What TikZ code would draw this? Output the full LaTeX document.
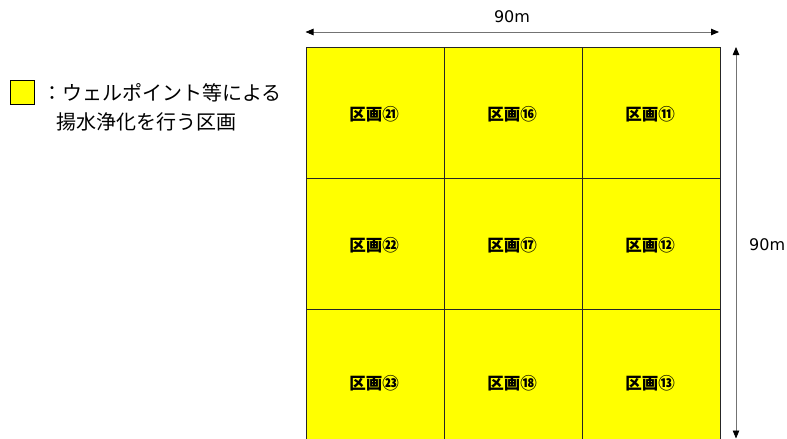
\documentclass[tikz,border=0pt]{standalone}
\usepackage{fontspec}
\setmainfont{Noto Sans CJK JP}
\newfontfamily\dimfont{DejaVu Sans}
\usetikzlibrary{arrows.meta}
\definecolor{cellyellow}{RGB}{255,255,0}
\begin{document}
\begin{tikzpicture}[x=1pt,y=-1pt,
  cell/.style={draw=black!85,line width=1pt,fill=cellyellow,minimum width=138pt,minimum height=131pt,inner sep=0pt,anchor=north west},
  celllabel/.style={font=\fontsize{16.5}{16.5}\selectfont\bfseries,inner sep=0pt},
  dimline/.style={draw=black!55,line width=0.8pt,{Triangle[length=8pt,width=6.5pt,color=black]}-{Triangle[length=8pt,width=6.5pt,color=black]}},
  dimtext/.style={font=\dimfont\fontsize{16}{16}\selectfont,inner sep=0pt},
  legendtext/.style={font=\fontsize{20}{20}\selectfont,inner sep=0pt,anchor=west}]
\useasboundingbox (0,0) rectangle (787,439);
\begin{scope}
\clip (0,0) rectangle (787,439);
% grid cells
\node[cell] (c11) at (305.5,47) {};
\node[cell] (c12) at (443.5,47) {};
\node[cell] (c13) at (581.5,47) {};
\node[cell] (c21) at (305.5,178) {};
\node[cell] (c22) at (443.5,178) {};
\node[cell] (c23) at (581.5,178) {};
\node[cell] (c31) at (305.5,309) {};
\node[cell] (c32) at (443.5,309) {};
\node[cell] (c33) at (581.5,309) {};
% vertical dimension label (partly cut at right edge)
\node[dimtext,anchor=west] (vtext) at (749,245) {90m};
\end{scope}
% labels
\node[celllabel] (l21) at (374,114) {区画㉑};
\node[celllabel] (l16) at (512,114) {区画⑯};
\node[celllabel] (l11) at (650,114) {区画⑪};
\node[celllabel] (l22) at (374,245) {区画㉒};
\node[celllabel] (l17) at (512,245) {区画⑰};
\node[celllabel] (l12) at (650,245) {区画⑫};
\node[celllabel] (l23) at (374,383) {区画㉓};
\node[celllabel] (l18) at (512,383) {区画⑱};
\node[celllabel] (l13) at (650,383) {区画⑬};
% dimension arrows
\coordinate (hl) at (305.5,32);
\coordinate (hr) at (719,32);
\coordinate (vt) at (736,47);
\coordinate (vb) at (736,438.5);
\draw[dimline] (hl) -- (hr);
\draw[dimline] (vt) -- (vb);
\node[dimtext] (htext) at (512,17) {90m};
% legend
\node[draw=black,line width=0.8pt,fill=cellyellow,minimum size=24pt,inner sep=0pt] (legbox) at (22.5,92.5) {};
\node[legendtext] (leg1) at (42,93) {：ウェルポイント等による};
\node[legendtext] (leg2) at (56,122) {揚水浄化を行う区画};
\end{tikzpicture}
\end{document}
